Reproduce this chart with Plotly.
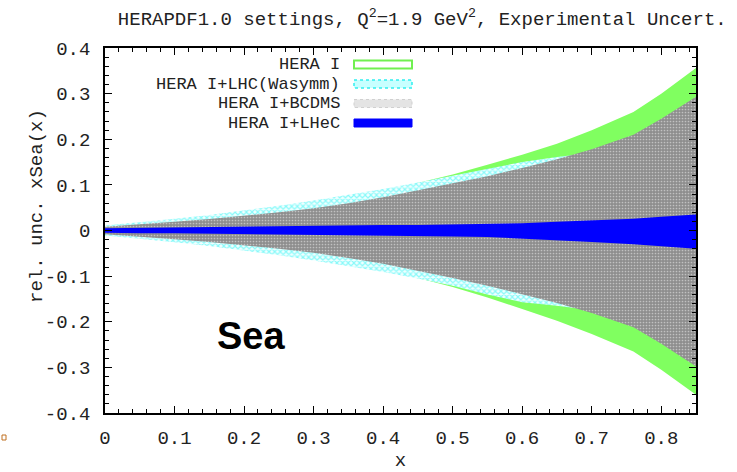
import plotly.graph_objects as go

# ---------------- data ----------------
x = [0.0, 0.05, 0.1, 0.15, 0.2, 0.25, 0.3, 0.35, 0.4, 0.45, 0.5, 0.55, 0.6, 0.65, 0.7, 0.76, 0.8, 0.85]

hera_up = [0.010, 0.016, 0.022, 0.030, 0.039, 0.049, 0.060, 0.072, 0.086, 0.104, 0.123, 0.144, 0.166, 0.190, 0.220, 0.260, 0.300, 0.356]
hera_lo = [-0.010, -0.016, -0.022, -0.030, -0.039, -0.049, -0.060, -0.072, -0.086, -0.104, -0.124, -0.147, -0.172, -0.198, -0.227, -0.265, -0.305, -0.360]

lhc_up = [0.011, 0.018, 0.026, 0.034, 0.044, 0.054, 0.066, 0.078, 0.091, 0.105, 0.120, 0.136, 0.150, 0.161, 0.170, 0.190, 0.220, 0.270]
lhc_lo = [-0.011, -0.018, -0.026, -0.034, -0.044, -0.054, -0.066, -0.078, -0.091, -0.105, -0.121, -0.140, -0.157, -0.165, -0.175, -0.195, -0.225, -0.275]

bcdms_up = [0.008, 0.013, 0.019, 0.025, 0.032, 0.040, 0.049, 0.060, 0.073, 0.088, 0.103, 0.119, 0.137, 0.156, 0.178, 0.210, 0.245, 0.293]
bcdms_lo = [-0.008, -0.013, -0.019, -0.025, -0.032, -0.040, -0.049, -0.060, -0.073, -0.088, -0.104, -0.121, -0.140, -0.159, -0.181, -0.212, -0.248, -0.298]

lhec_up = [0.005, 0.006, 0.006, 0.007, 0.008, 0.009, 0.010, 0.011, 0.012, 0.012, 0.013, 0.014, 0.016, 0.019, 0.022, 0.026, 0.030, 0.035]
lhec_lo = [-0.005, -0.006, -0.006, -0.007, -0.008, -0.009, -0.010, -0.011, -0.012, -0.012, -0.013, -0.014, -0.017, -0.021, -0.025, -0.030, -0.034, -0.040]

series_names = ["HERA I", "HERA I+LHC(Wasymm)", "HERA I+BCDMS", "HERA I+LHeC"]

xtick_vals = [0, 0.1, 0.2, 0.3, 0.4, 0.5, 0.6, 0.7, 0.8]
xtick_text = ["0", "0.1", "0.2", "0.3", "0.4", "0.5", "0.6", "0.7", "0.8"]
ytick_vals = [-0.4, -0.3, -0.2, -0.1, 0, 0.1, 0.2, 0.3, 0.4]
ytick_text = ["-0.4", "-0.3", "-0.2", "-0.1", "0", "0.1", "0.2", "0.3", "0.4"]

# ---------------- figure ----------------
W, H = 737, 472
ML, MR, MT, MB = 105, 41, 48, 59
FONT = "Liberation Mono"
FS = 19
TXT = "#222"


def band(up, lo, name, **kw):
    return go.Scatter(
        x=x + x[::-1], y=up + lo[::-1], fill="toself", mode="lines",
        line=dict(width=0), name=name, showlegend=False, hoverinfo="skip", **kw)


fig = go.Figure()
fig.add_trace(band(hera_up, hera_lo, series_names[0], fillcolor="#80ff60"))
fig.add_trace(band(lhc_up, lhc_lo, series_names[1], fillcolor="#ffffff",
                   fillpattern=dict(shape="x", fgcolor="#20f4f4", bgcolor="#f0ffff", size=4, solidity=0.5)))
fig.add_trace(band(bcdms_up, bcdms_lo, series_names[2], fillcolor="#9a9a9a",
                   fillpattern=dict(shape=".", fgcolor="#f4f4f4", bgcolor="#8e8e8e", size=3, solidity=0.25)))
fig.add_trace(band(lhec_up, lhec_lo, series_names[3], fillcolor="#0000ff"))

axis_common = dict(
    showgrid=False, zeroline=False, showline=True, linecolor="black", linewidth=1.5,
    mirror="allticks", ticks="inside", ticklen=7, tickcolor="black", tickwidth=1,
    tickfont=dict(family=FONT, size=FS, color=TXT), automargin=False,
)

fig.update_xaxes(range=[0, 0.85], tickvals=xtick_vals, ticktext=xtick_text,
                 minor=dict(ticks="inside", dtick=0.02, ticklen=4, tickcolor="black"),
                 ticklabelstandoff=6,
                 title=dict(text="x", font=dict(family=FONT, size=FS, color=TXT), standoff=8),
                 **axis_common)
fig.update_yaxes(range=[-0.4, 0.4], tickvals=ytick_vals, ticktext=ytick_text,
                 minor=dict(ticks="inside", dtick=0.02, ticklen=4, tickcolor="black"),
                 ticklabelstandoff=9,
                 **axis_common)


def px2paper_x(px):
    return (px - ML) / (W - ML - MR)


def px2paper_y(py):
    return (H - MB - py) / (H - MT - MB)


# y-axis label
fig.add_annotation(xref="paper", yref="paper", x=px2paper_x(37), y=px2paper_y(206),
                   xanchor="center", yanchor="middle", textangle=-90, showarrow=False,
                   text="rel. unc. xSea(x)", font=dict(family=FONT, size=FS, color=TXT))

# manual legend (text right-aligned, swatch on the right)
leg_rows = [64.5, 84, 103.5, 123]
swatch_styles = [
    dict(fillcolor="white", line=dict(color="#70f050", width=2)),
    dict(fillcolor="#c8ffff", line=dict(color="#30f0f0", width=1.5, dash="dot")),
    dict(fillcolor="#e4e4e4", line=dict(color="#d0d0d0", width=1, dash="dot")),
    dict(fillcolor="#0000ff", line=dict(color="#0000ff", width=1)),
]
for name, yc, st in zip(series_names, leg_rows, swatch_styles):
    fig.add_annotation(xref="paper", yref="paper", x=px2paper_x(341), y=px2paper_y(yc),
                       xanchor="right", yanchor="middle", text=name, showarrow=False,
                       borderpad=0,
                       font=dict(family=FONT, size=17, color=TXT))
    fig.add_shape(type="rect", xref="paper", yref="paper",
                  x0=px2paper_x(354), x1=px2paper_x(412),
                  y0=px2paper_y(yc - 4), y1=px2paper_y(yc + 4), **st)

fig.add_annotation(x=0.21, y=-0.232, xref="x", yref="y", text="<b>Sea</b>", showarrow=False,
                   font=dict(family="Liberation Sans", size=38, color="black"))

# small stray mark at lower-left corner of the original image
fig.add_shape(type="rect", xref="paper", yref="paper",
              x0=px2paper_x(2), x1=px2paper_x(6), y0=px2paper_y(440), y1=px2paper_y(435),
              line=dict(color="#c07020", width=1), fillcolor="white")

fig.update_layout(
    width=W, height=H, margin=dict(l=ML, r=MR, t=MT, b=MB, autoexpand=False),
    paper_bgcolor="white", plot_bgcolor="white",
    title=dict(text="HERAPDF1.0 settings, Q<sup>2</sup>=1.9 GeV<sup>2</sup>, Experimental Uncert.",
               x=0.573, xanchor="center", y=1 - 18 / H, yanchor="middle",
               font=dict(family=FONT, size=FS, color=TXT)),
    showlegend=False,
)

fig.write_html("out.html", config={"displayModeBar": False},
               post_script="document.body.style.margin='0';document.body.style.padding='0';")
